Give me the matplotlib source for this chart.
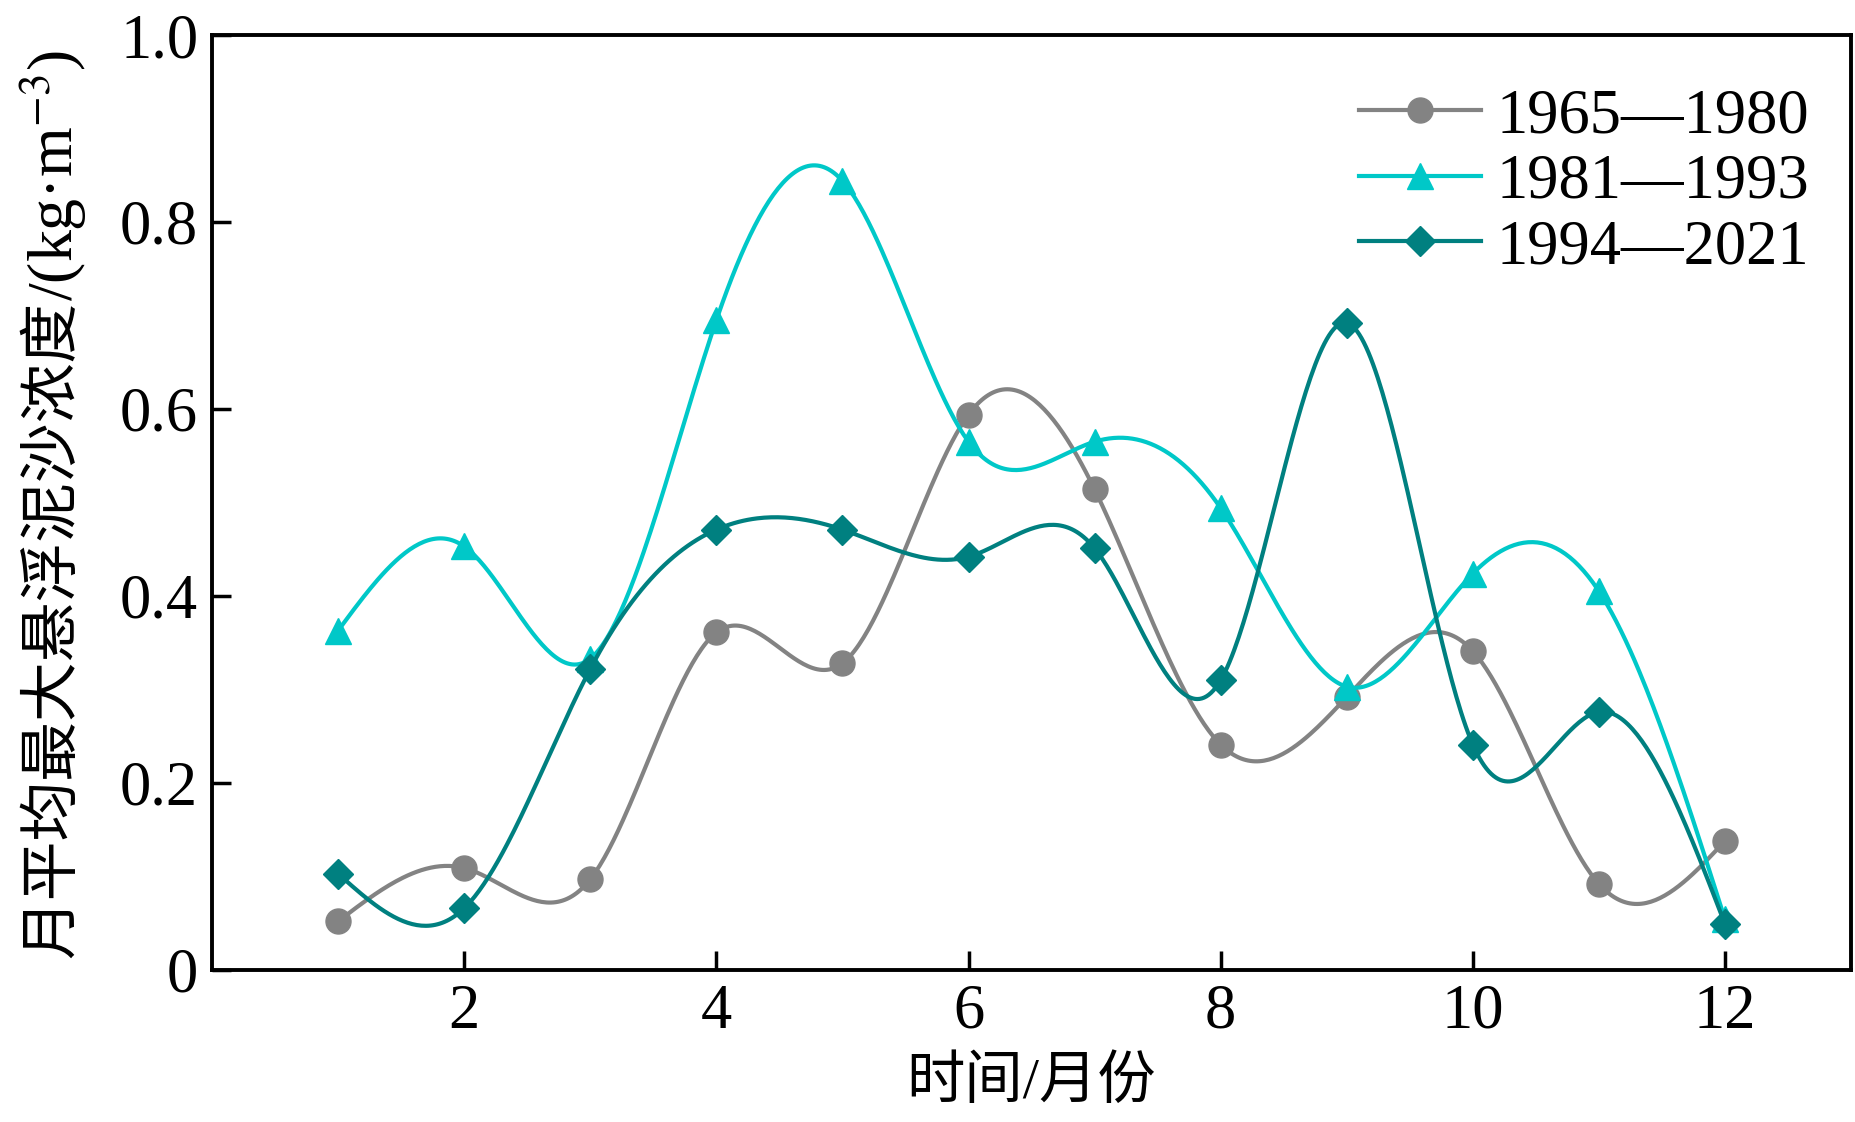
import numpy as np
import matplotlib.pyplot as plt

plt.rcParams['font.family'] = ['Liberation Serif', 'Noto Sans CJK SC']
plt.rcParams['mathtext.fontset'] = 'stix'

months = np.arange(1, 13)
labels = ['1965—1980', '1981—1993', '1994—2021']
s1965 = [0.052, 0.109, 0.097, 0.361, 0.328, 0.594, 0.514, 0.241, 0.292, 0.341, 0.092, 0.138]
s1981 = [0.363, 0.453, 0.333, 0.695, 0.844, 0.565, 0.565, 0.494, 0.303, 0.424, 0.405, 0.054]
s1994 = [0.103, 0.066, 0.322, 0.471, 0.471, 0.442, 0.451, 0.310, 0.692, 0.241, 0.276, 0.049]
colors = ['#838383', '#00C8C8', '#008080']
markers = ['o', '^', 'D']
msizes = [18, 19, 15]


def natural_spline(x, y, xs):
    # plain natural cubic spline, no scipy needed
    x = np.asarray(x, float)
    y = np.asarray(y, float)
    n = len(x)
    h = np.diff(x)
    A = np.zeros((n, n))
    b = np.zeros(n)
    A[0, 0] = A[-1, -1] = 1
    for i in range(1, n - 1):
        A[i, i - 1] = h[i - 1]
        A[i, i] = 2 * (h[i - 1] + h[i])
        A[i, i + 1] = h[i]
        b[i] = 3 * ((y[i + 1] - y[i]) / h[i] - (y[i] - y[i - 1]) / h[i - 1])
    c = np.linalg.solve(A, b)
    bb = (y[1:] - y[:-1]) / h - h * (2 * c[:-1] + c[1:]) / 3
    d = (c[1:] - c[:-1]) / (3 * h)
    idx = np.clip(np.searchsorted(x, xs) - 1, 0, n - 2)
    dx = xs - x[idx]
    return y[idx] + bb[idx] * dx + c[idx] * dx ** 2 + d[idx] * dx ** 3


fig = plt.figure(figsize=(18.55, 11.22), dpi=100)
ax = fig.add_axes([0.1143, 0.1355, 0.8836, 0.8333])

xs = np.linspace(1, 12, 600)
handles = []
for vals, col, mk, ms, lab in zip([s1965, s1981, s1994], colors, markers, msizes, labels):
    ax.plot(xs, natural_spline(months, vals, xs), color=col, linewidth=3)
    ax.plot(months, vals, linestyle='none', marker=mk, color=col, markersize=ms)
    h, = ax.plot([], [], color=col, linewidth=3, marker=mk, markersize=ms, label=lab)
    handles.append(h)

ax.set_xlim(0, 13)
ax.set_ylim(0, 1.0)
ax.set_xticks([2, 4, 6, 8, 10, 12])
ax.set_yticks([0, 0.2, 0.4, 0.6, 0.8, 1.0])
ax.set_yticklabels(['0', '0.2', '0.4', '0.6', '0.8', '1.0'])
ax.tick_params(direction='in', length=14, width=2.5, labelsize=45, pad=10)
for sp in ax.spines.values():
    sp.set_linewidth(2.8)

ax.set_xlabel('时间/月份', fontsize=42, labelpad=10)

# y label in two pieces: CJK part, then the unit with a superscript
t1 = ax.text(-0.097, 0.013, '月平均最大悬浮泥沙浓度', transform=ax.transAxes,
             rotation=90, ha='center', va='bottom', fontsize=43,
             family='Noto Sans CJK SC')
ax.annotate('/(kg·m$^{-3}$)', xy=(0.5, 1.0), xycoords=t1, rotation=90,
            ha='center', va='bottom', fontsize=46)

ax.legend(handles=handles, loc='upper right', bbox_to_anchor=(1.007, 1.0),
          frameon=False, fontsize=45, handlelength=1.95, handletextpad=0.25,
          labelspacing=0.12, borderaxespad=0.45)

fig.savefig('out.png', dpi=100)
